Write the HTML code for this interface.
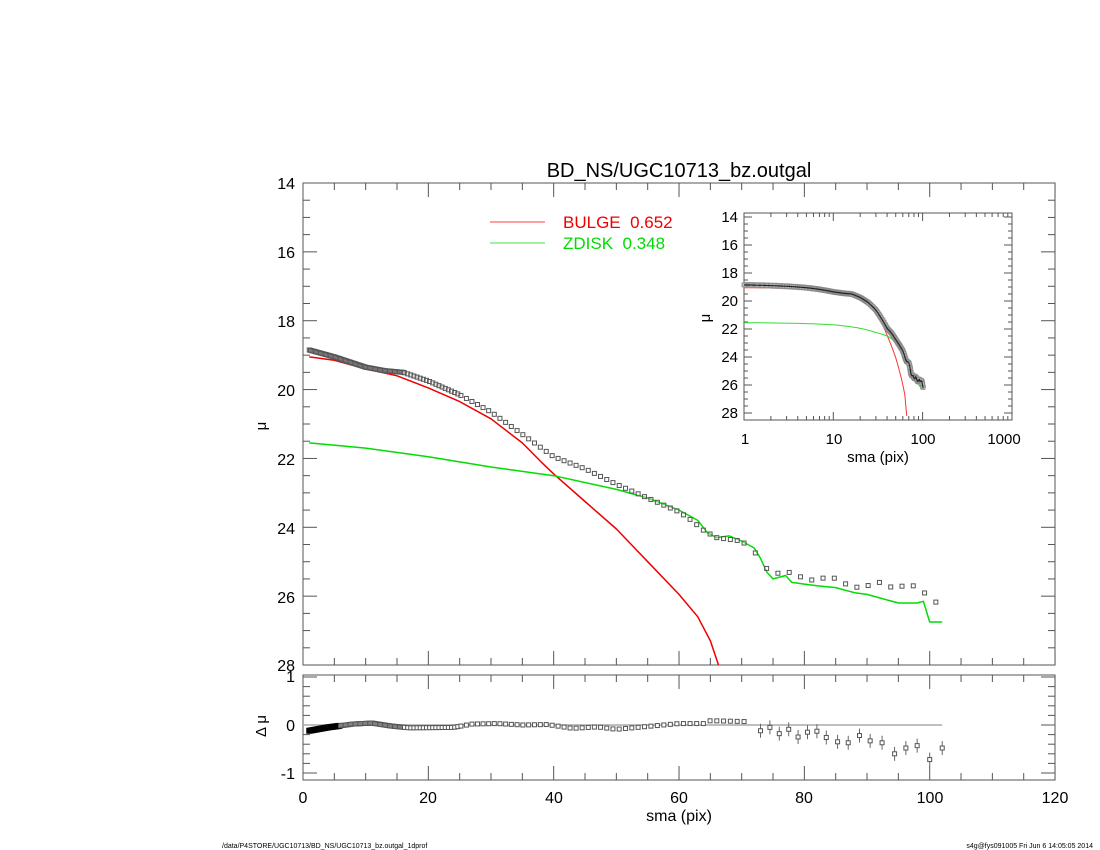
<!DOCTYPE html>
<html><head><meta charset="utf-8"><style>
html,body{margin:0;padding:0;background:#fff}
svg{display:block;font-family:"Liberation Sans",sans-serif}
</style></head><body>
<svg id="s" width="1100" height="850" viewBox="0 0 1100 850" xmlns="http://www.w3.org/2000/svg">
<rect width="1100" height="850" fill="#fff"/>
<text x="679" y="177" font-size="20" text-anchor="middle">BD_NS/UGC10713_bz.outgal</text>
<g font-size="16" text-anchor="end">
<text x="295" y="189">14</text><text x="295" y="258">16</text><text x="295" y="327">18</text>
<text x="295" y="396">20</text><text x="295" y="465">22</text><text x="295" y="534">24</text>
<text x="295" y="603">26</text><text x="295" y="671">28</text>
<text x="295" y="682">1</text><text x="295" y="731">0</text><text x="295" y="779">-1</text>
</g>
<text x="266" y="426" font-size="15" transform="rotate(-90 266 426)" text-anchor="middle">μ</text>
<text x="266" y="726" font-size="15" transform="rotate(-90 266 726)" text-anchor="middle">Δ μ</text>
<g font-size="16" text-anchor="middle">
<text x="303" y="803">0</text><text x="428" y="803">20</text><text x="554" y="803">40</text>
<text x="679" y="803">60</text><text x="804" y="803">80</text><text x="930" y="803">100</text>
<text x="1055" y="803">120</text>
<text x="679" y="821">sma (pix)</text>
</g>
<line x1="490" y1="222" x2="545" y2="222" stroke="#f00" stroke-width="0.8"/>
<line x1="490" y1="243" x2="545" y2="243" stroke="#0d0" stroke-width="0.8"/>
<text x="563" y="228" font-size="17" fill="#e00">BULGE&#160; 0.652</text>
<text x="563" y="249" font-size="17" fill="#0d0">ZDISK&#160; 0.348</text>
<g font-size="15" text-anchor="end">
<text x="738" y="222">14</text><text x="738" y="250">16</text><text x="738" y="278">18</text>
<text x="738" y="306">20</text><text x="738" y="334">22</text><text x="738" y="362">24</text>
<text x="738" y="390">26</text><text x="738" y="418">28</text>
</g>
<text x="710" y="318" font-size="15" transform="rotate(-90 710 318)" text-anchor="middle">μ</text>
<g font-size="15" text-anchor="middle">
<text x="745" y="444">1</text><text x="834" y="444">10</text><text x="923" y="444">100</text><text x="1004" y="444">1000</text>
<text x="878" y="462">sma (pix)</text>
</g>
<text x="222" y="848" font-size="7">/data/P4STORE/UGC10713/BD_NS/UGC10713_bz.outgal_1dprof</text>
<text x="1093" y="848" font-size="7" text-anchor="end">s4g@fys091005  Fri Jun  6 14:05:05 2014</text>
<g id="g"></g>
</svg>
<script>
var g=document.getElementById('g'),h='';
function X(s){return 303+s*6.267}function Y(m){return 183+(m-14)*34.43}
function YR(d){return 725-d*48}
function XI(s){return 744+Math.log10(s)*89.3}function YI(m){return 217+(m-14)*14}
function interp(p,x){for(var i=0;i<p.length-1;i++){if(x<=p[i+1][0]){var t=(x-p[i][0])/(p[i+1][0]-p[i][0]);return p[i][1]+t*(p[i+1][1]-p[i][1]);}}return p[p.length-1][1];}
function L(a,b,c,d,col,w){h+='<line x1="'+a+'" y1="'+b+'" x2="'+c+'" y2="'+d+'" stroke="'+(col||'#000')+'" stroke-width="'+(w||1)+'"/>';}
h+='<rect x="303" y="183" width="752" height="482" fill="none" stroke="#555"/>';
h+='<rect x="303" y="675" width="752" height="105" fill="none" stroke="#555"/>';
for(var s=0;s<=120;s+=5){var x=X(s),l=s%20==0?14:7;L(x,183,x,183+l,'#555');L(x,665,x,665-l,'#555');L(x,675,x,675+l,'#555');L(x,780,x,780-l,'#555');}
for(var m=14;m<=28;m+=0.5){var y=Y(m),l=m%2==0?14:7;L(303,y,303+l,y,'#555');L(1055,y,1055-l,y,'#555');}
for(var d=-1;d<=1.01;d+=0.2){var y=YR(d),l=Math.abs(d%1)<0.01||Math.abs(Math.abs(d%1)-1)<0.01?14:7;L(303,y,303+l,y,'#555');L(1055,y,1055-l,y,'#555');}
var obs=[[1,18.85],[2,18.9],[5,19.05],[10,19.35],[13,19.45],[16,19.5],[20,19.75],[25,20.15],[30,20.65],[35,21.3],[40,21.95],[45,22.3],[50,22.75],[55,23.15],[60,23.55],[62,23.8],[64,24.1],[66,24.3],[68,24.35],[70,24.4],[72,24.7],[74,25.2],[76,25.35],[78,25.3],[80,25.5],[82,25.55],[84,25.4],[86,25.6],[88,25.75],[90,25.7],[92,25.6],[94,25.75],[96,25.7],[98,25.7],[100,26.05],[102,26.3]];
var bul=[[1,19.05],[5,19.15],[10,19.4],[15,19.6],[20,19.95],[25,20.35],[30,20.85],[35,21.55],[38,22.1],[40,22.45],[45,23.25],[50,24.05],[55,25.0],[60,25.95],[63,26.6],[65,27.3],[66.3,28.0]];
var dsk=[[1,21.55],[10,21.7],[20,21.95],[30,22.25],[40,22.5],[50,22.9],[55,23.15],[60,23.5],[63,23.8],[64.5,24.15],[66,24.3],[68,24.25],[70,24.4],[72,24.6],[73,24.9],[74,25.3],[75,25.5],[77,25.4],[78,25.6],[80,25.65],[82,25.7],[85,25.75],[88,25.9],[90,25.95],[92,26.05],[95,26.2],[98,26.2],[99,26.15],[100,26.75],[102,26.75]];
var res=[[1,-0.12],[4,-0.05],[8,0.02],[11,0.04],[14,-0.02],[17,-0.06],[24,-0.05],[27,0.02],[31,0.03],[35,0],[39,0.01],[43,-0.07],[47,-0.04],[50,-0.09],[55,-0.03],[60,0.03],[64,0.03],[65,0.09],[71,0.07]];
function path(p,fx,fy,col,w){var d='';p.forEach(function(q,i){d+=(i?'L':'M')+fx(q[0]).toFixed(1)+' '+fy(q[1]).toFixed(1);});h+='<path d="'+d+'" fill="none" stroke="'+col+'" stroke-width="'+w+'" stroke-linejoin="round"/>';}
path(bul,X,Y,'#e00',1.5);path(dsk,X,Y,'#0d0',1.5);
var sl=[];var s=1;while(s<=102){sl.push(s);s+=(s<70?(s<16?0.2:(s<25?0.5:0.75+s*0.005)):1.8);}
sl.forEach(function(s){var x=X(s),y=Y(interp(obs,s));h+='<rect x="'+(x-2)+'" y="'+(y-2)+'" width="4" height="4" fill="#fff" fill-opacity="0.3" stroke="#555" stroke-width="1"/>';});
L(303,725,X(102),725,'#aaa',1.5);
var rlate=[[73,-0.12],[74.5,-0.05],[76,-0.18],[77.5,-0.09],[79,-0.25],[80.5,-0.15],[82,-0.13],[83.5,-0.26],[85.3,-0.35],[87,-0.37],[88.8,-0.22],[90.5,-0.33],[92.4,-0.37],[94.4,-0.6],[96.2,-0.48],[98,-0.43],[100,-0.72],[102,-0.48]];
sl.forEach(function(s){if(s>72)return;var x=X(s),y=YR(interp(res,s));h+='<rect x="'+(x-2)+'" y="'+(y-2)+'" width="4" height="4" fill="#fff" stroke="'+(s<6?'#000':'#555')+'" stroke-width="'+(s<6?2:1)+'"/>';});
rlate.forEach(function(q){var x=X(q[0]),y=YR(q[1]);L(x,y-7,x,y+7,'#666',1);h+='<rect x="'+(x-2)+'" y="'+(y-2)+'" width="4" height="4" fill="#fff" stroke="#555" stroke-width="1"/>';});
h+='<rect x="744" y="213" width="268" height="207" fill="#fff" stroke="#555"/>';
for(var dec=0;dec<3;dec++)for(var k=1;k<10;k++){var x=744+(dec+Math.log10(k))*89.3,l=k==1?8:4;L(x,213,x,213+l,'#555');L(x,420,x,420-l,'#555');}
for(var m=14;m<=28;m+=0.5){var y=YI(m),l=m%2==0?8:4;if(y>420)continue;L(744,y,744+l,y,'#555');L(1012,y,1012-l,y,'#555');}
var bi=[];for(var s=1;s<=66.3;s*=1.05)bi.push([s,interp(bul,s)]);bi.push([66.3,28.5]);
var di=[];for(var s=1;s<=102;s*=1.05)di.push([s,interp(dsk,s)]);
function cl(p){return p.map(function(q){return [q[0],Math.min(q[1],28.2)]});}
path(cl(bi),XI,YI,'#f33',1);path(di,XI,YI,'#3d3',1);
var il=[];for(var s=1;s<=102;s+=(s<20?0.1:0.5))il.push([s,interp(obs,s)]);
path(il,XI,YI,'#999',6);
sl.forEach(function(s){var x=XI(s),y=YI(interp(obs,s));h+='<rect x="'+(x-2)+'" y="'+(y-2)+'" width="4" height="4" fill="#bbb" stroke="#888" stroke-width="0.8"/>';});
path(il,XI,YI,'#222',1.2);
g.innerHTML=h;
</script>
</body></html>
